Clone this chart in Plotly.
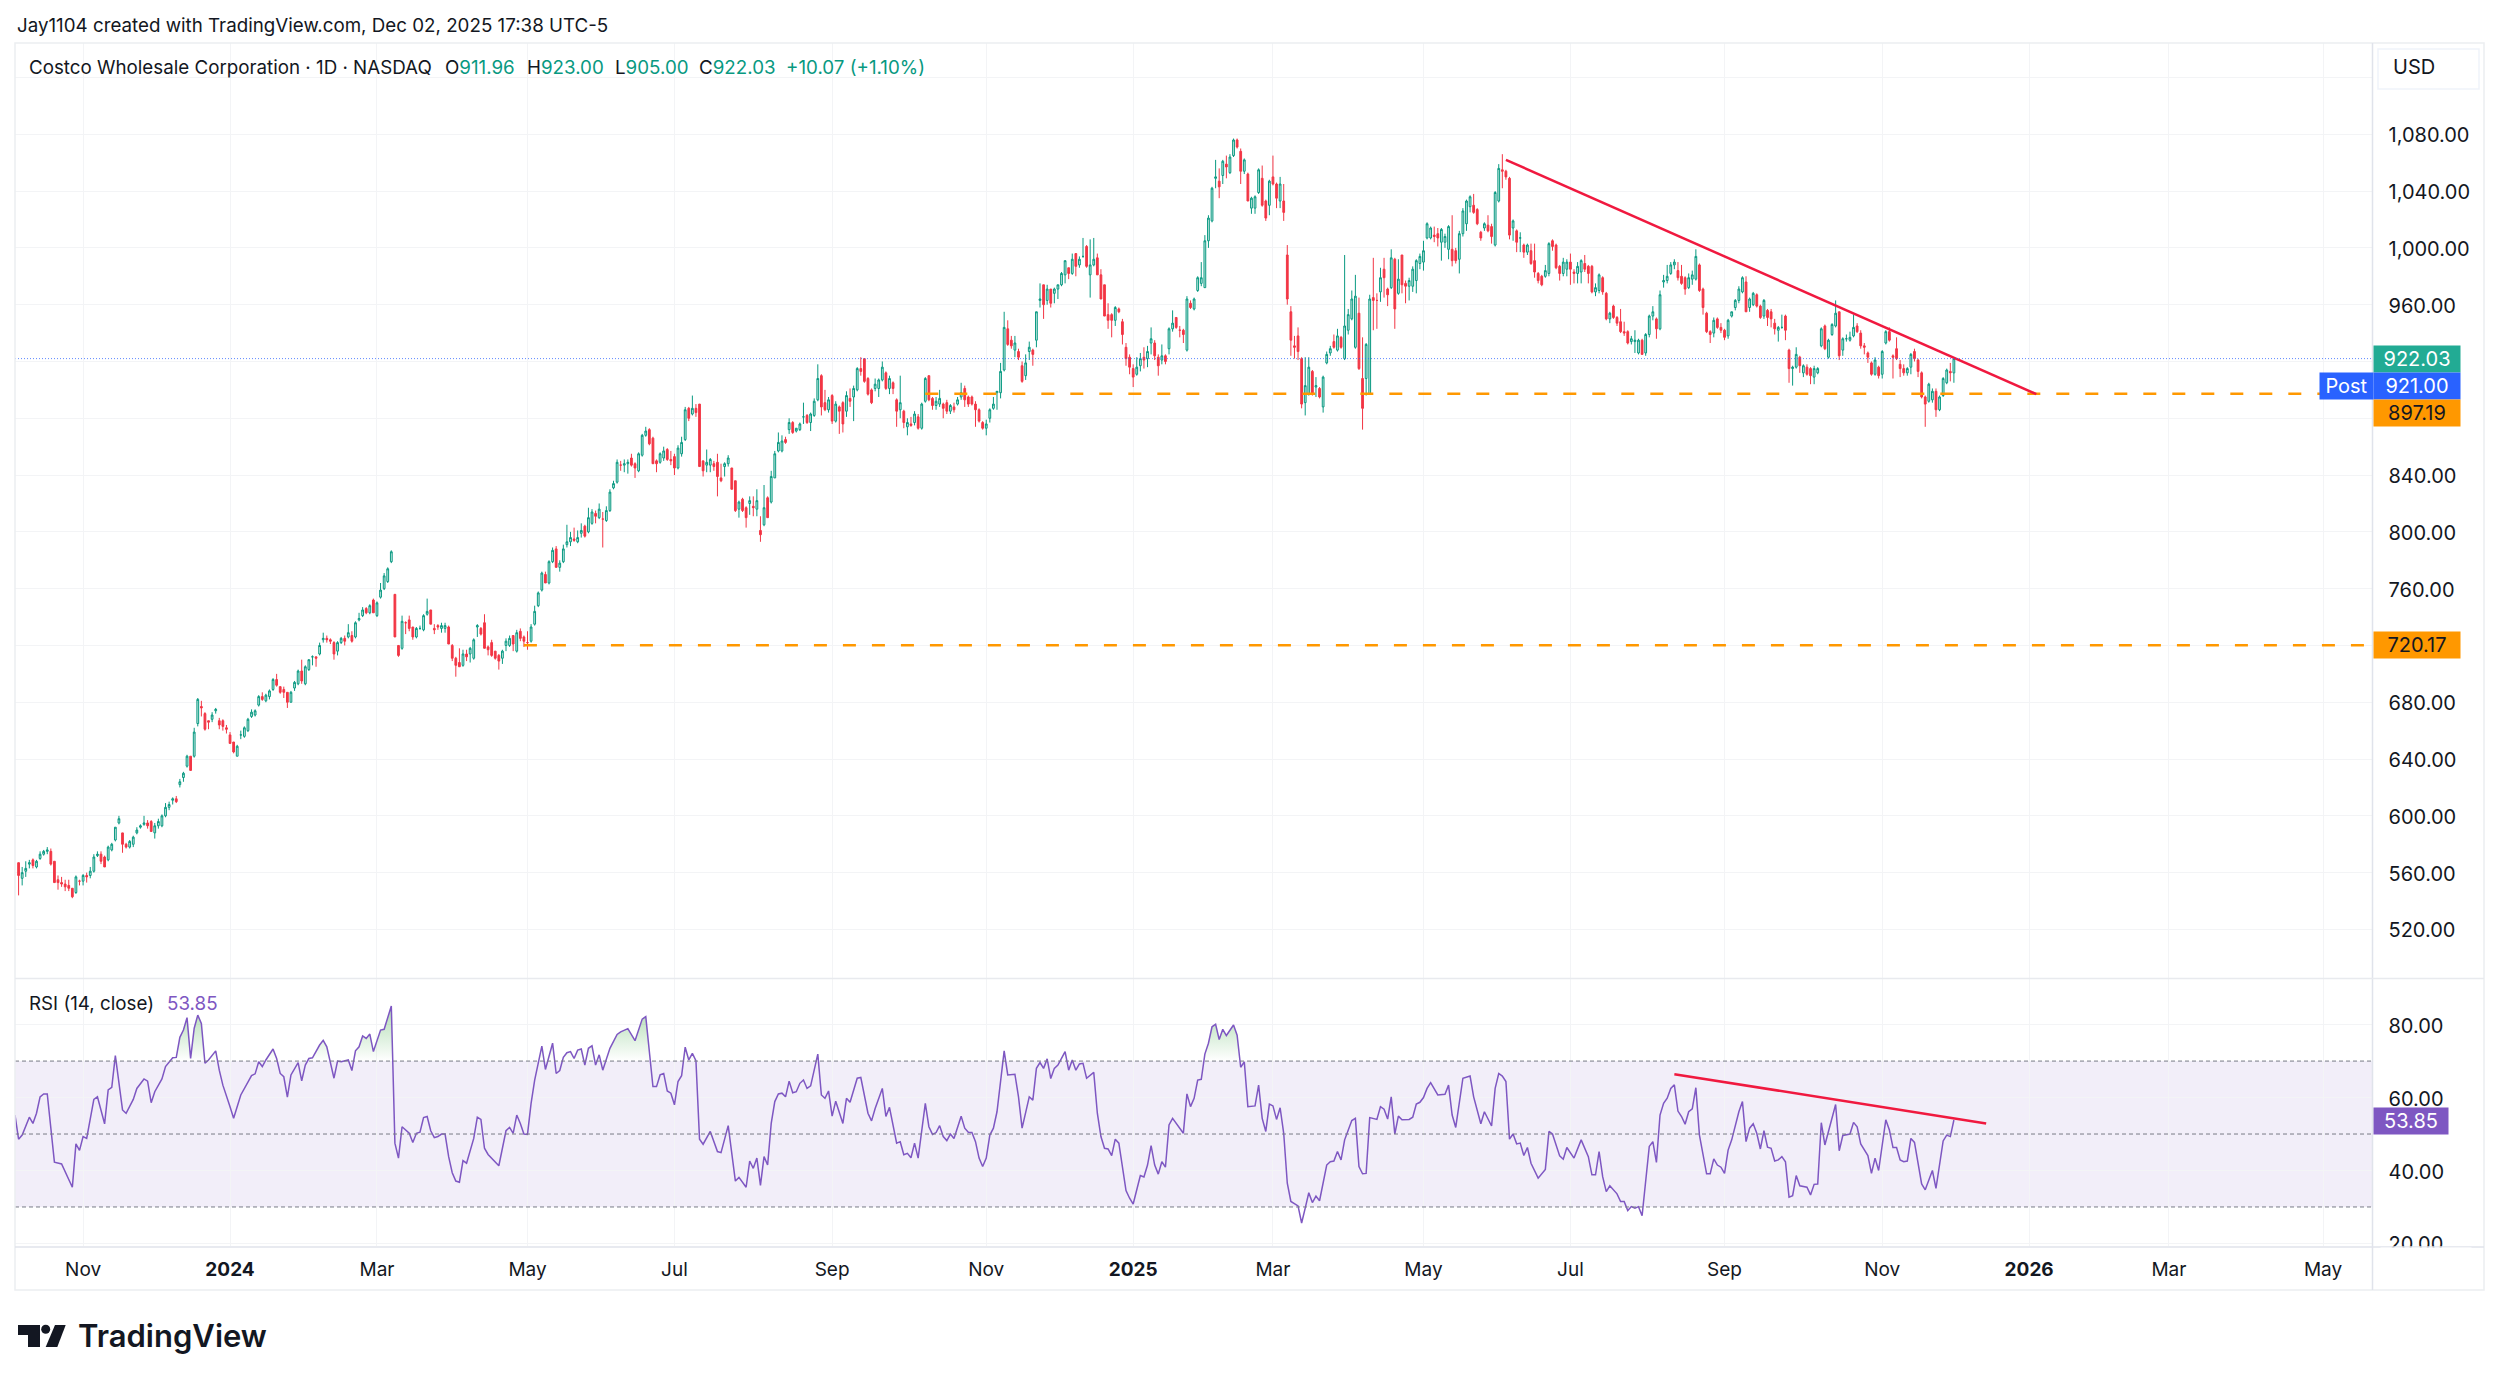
#!/usr/bin/python

import numpy as np
import plotly.graph_objects as go
from plotly.subplots import make_subplots

W = 2500
H = 1384

opens = [
    567,556,561,566,569,564,570,573,575,575, 568,555,553,552,551,549,546,554,554,558,
    558,561,572,573,571,569,576,583,595,588, 580,578,580,588,592,594,595,596,588,593,
    593,600,606,611,612,622,627,635,642,642, 665,677,672,667,668,674,667,667,662,657,
    652,642,657,656,660,670,671,678,684,681, 684,689,696,691,689,687,680,690,693,702,
    693,703,712,712,714,724,725,724,722,716, 722,725,726,727,726,738,741,746,743,752,
    741,754,760,765,779,756,720,718,736,738, 733,726,732,731,742,745,732,734,732,732,
    733,720,711,708,706,714,714,711,733,732, 736,719,722,716,713,711,720,720,727,716,
    730,726,722,723,735,748,759,770,764,779, 788,775,779,791,793,795,793,799,804,800,
    806,813,810,809,808,815,831,835,847,847, 848,852,848,843,854,868,872,866,850,849,
    852,858,851,853,845,855,865,887,883,887, 890,850,847,847,848,849,838,846,848,845,
    836,816,823,817,820,818,816,801,805,824, 821,838,857,857,865,872,877,871,872,881,
    882,877,882,893,910,891,886,896,878,888, 891,885,894,895,900,915,922,908,900,901,
    901,907,912,901,905,893,886,885,874,876, 877,881,873,892,910,894,889,890,890,891,
    885,888,890,895,901,895,895,890,886,877, 873,880,887,898,898,914,943,935,928,927,
    917,910,927,928,935,963,974,963,971,968, 971,974,981,986,982,996,988,994,1001,981,
    988,993,981,974,953,953,949,957,948,930, 923,915,911,917,923,922,933,933,923,921,
    924,929,943,951,942,942,928,961,957,970, 975,972,1005,1019,1049,1047,1051,1059,1053,1065,
    1076,1068,1054,1052,1028,1028,1039,1049,1033,1030, 1050,1045,1033,1033,995,955,931,938,922,891,
    897,913,902,901,888,919,926,934,928,937, 922,942,950,930,954,908,908,897,965,963,
    969,985,971,972,992,968,995,975,973,973, 977,989,990,1007,1007,1009,1010,1004,1004,999,
    999,998,992,1010,1017,1029,1030,1027,1011,1014, 1016,1015,1002,1033,1055,1054,1049,1014,1012,1007,
    1002,997,998,991,982,980,980,982,1005,1002, 987,982,985,990,983,982,983,989,987,987,
    969,970,979,968,950,959,951,948,941,941, 934,934,926,935,926,939,952,950,943,976,
    977,982,988,984,980,979,972,978,978,988, 971,954,941,940,950,944,942,938,952,958,
    963,969,976,958,960,967,959,952,956,955, 947,942,944,952,928,915,916,923,912,916,
    915,909,912,931,945,923,939,945,955,928, 936,935,938,945,940,931,926,919,911,916,
    911,933,941,924,929,918,915,912,916,927, 921,912,895,892,893,899,886,896,905,913,911.96,
]
highs = [
    567,564,568,569,570,569,575,576,578,577, 568,558,557,555,555,549,558,555,559,560,
    564,573,575,575,572,579,581,592,600,588, 581,583,586,592,594,600,597,597,595,598,
    601,609,610,613,614,626,631,643,642,662, 683,681,673,667,673,676,669,668,664,659,
    652,650,660,663,669,675,675,685,687,686, 689,697,700,691,691,687,688,695,703,710,
    706,710,713,712,722,729,727,725,723,723, 726,727,735,730,737,743,747,747,749,753,
    751,764,771,775,787,756,720,741,737,741, 733,733,734,742,753,745,735,735,736,736,
    734,721,712,718,717,717,719,725,735,733, 742,720,724,716,714,717,725,727,727,731,
    732,727,730,735,748,758,772,772,780,789, 790,780,791,805,800,803,801,806,805,817,
    816,815,820,814,818,830,836,851,850,851, 851,855,849,856,869,874,873,867,851,856,
    860,859,857,855,861,867,888,888,896,890, 890,850,858,852,850,855,848,849,854,845,
    836,822,824,818,825,825,830,811,833,825, 843,857,870,868,867,880,878,873,877,891,
    883,884,894,918,911,900,895,897,892,889, 892,899,901,903,916,923,922,909,901,908,
    908,920,913,910,906,894,910,886,880,881, 885,883,891,909,910,895,895,900,891,893,
    890,891,895,905,903,896,896,892,887,878, 879,887,895,899,919,955,949,938,938,929,
    920,925,934,929,955,975,974,974,971,972, 974,983,991,986,996,996,994,1007,1002,1006,
    1007,996,985,974,961,954,959,958,950,933, 925,918,923,926,930,931,944,935,925,932,
    925,944,956,951,945,943,966,963,965,980, 990,1009,1023,1043,1062,1056,1062,1065,1066,1077,
    1077,1070,1063,1053,1036,1037,1056,1058,1034,1048, 1065,1046,1050,1045,1002,959,938,944,923,923,
    923,914,909,902,910,927,931,939,943,938, 995,957,970,981,965,937,933,967,993,968,
    986,993,972,999,993,992,995,977,979,987, 992,996,1005,1018,1015,1015,1014,1014,1010,1016,
    1023,1000,1012,1028,1034,1037,1038,1028,1012,1018, 1023,1017,1040,1059,1066,1055,1050,1020,1013,1011,
    1003,1003,1003,1003,983,981,988,1004,1006,1003, 988,993,992,996,985,990,992,995,988,988,
    975,982,980,969,955,960,952,957,948,942, 938,942,936,936,940,953,959,951,970,981,
    988,990,992,990,988,980,982,984,999,989, 972,955,942,951,951,947,943,950,955,964,
    973,980,980,965,969,968,960,964,957,957, 950,945,953,953,929,917,930,924,918,918,
    916,917,916,944,946,936,947,963,955,937, 939,941,953,947,942,933,927,920,923,917,
    928,942,944,925,937,921,918,916,926,929, 922,913,896,905,901,901,896,909,915,919,923,
]
lows = [
    544,551,557,563,563,563,569,572,573,565, 553,548,550,547,547,542,545,551,551,553,
    556,560,571,566,564,568,575,582,594,574, 577,577,578,587,591,593,591,589,584,591,
    592,599,604,608,609,620,624,634,632,641, 663,670,660,661,666,672,661,660,658,651,
    644,642,654,655,659,669,670,677,681,680, 682,688,691,686,683,676,680,688,692,693,
    692,702,706,705,713,722,722,721,710,713, 721,720,725,722,725,737,740,742,742,743,
    740,753,759,764,778,726,712,717,728,730, 724,725,731,730,741,735,728,731,729,729,
    721,709,698,705,705,709,708,710,726,727, 718,713,712,710,703,707,716,719,716,715,
    723,719,717,722,734,747,758,764,763,778, 775,772,778,789,790,793,792,796,796,799,
    805,806,809,789,807,814,830,834,843,842, 841,846,838,842,853,867,861,848,842,848,
    850,850,847,840,844,853,864,878,882,881, 846,839,842,842,843,825,835,839,846,830,
    814,810,814,803,812,811,811,793,804,810, 820,838,856,856,862,869,869,870,871,876,
    876,871,881,892,882,885,884,876,877,869, 870,881,888,878,899,910,905,896,890,899,
    895,906,900,897,897,874,880,873,868,874, 875,872,872,891,892,886,886,888,880,883,
    883,884,889,893,888,888,889,874,877,872, 868,877,886,886,894,913,931,929,923,921,
    905,907,921,917,930,958,950,960,958,961, 964,973,975,978,981,980,986,993,986,965,
    987,981,964,952,943,937,945,954,932,917, 911,902,910,913,915,916,925,921,910,918,
    918,925,941,943,937,933,927,957,956,969, 973,972,1000,1018,1042,1035,1045,1049,1052,1064,
    1070,1045,1052,1033,1024,1024,1038,1029,1019,1023, 1044,1028,1028,1019,960,924,922,921,887,882,
    896,896,895,894,884,918,924,929,927,929, 921,939,949,929,914,872,896,897,942,943,
    962,965,959,971,943,967,968,961,963,969, 968,985,984,1006,1006,1004,1001,991,1000,992,
    987,989,982,1008,1012,1025,1024,1016,1005,1012, 1011,1003,1001,1032,1042,1048,1006,1005,997,997,
    993,995,988,979,975,973,979,980,998,985, 977,980,980,974,975,975,975,983,975,968,
    966,968,967,949,947,950,945,940,938,932, 932,926,925,925,924,937,949,936,942,972,
    975,981,985,977,974,967,971,974,977,969, 953,940,933,937,943,940,935,936,951,956,
    961,968,955,955,959,958,950,950,945,944, 939,934,943,935,905,903,915,912,909,910,
    904,904,911,930,928,922,938,944,921,924, 934,934,937,940,929,925,919,910,910,908,
    908,932,934,908,921,909,910,910,911,920, 909,894,874,891,891,881,885,895,904,906,905,
]
closes = [
    558,560,563,567,565,568,573,575,576,566, 553,553,552,550,549,543,557,554,558,557,
    561,571,573,568,564,578,580,592,598,580, 578,582,585,590,593,595,593,589,593,596,
    600,606,608,612,610,624,630,642,632,659, 682,676,661,666,671,675,664,663,661,651,
    645,649,657,662,668,673,674,684,682,685, 688,696,692,687,687,680,687,694,702,695,
    705,710,712,711,720,725,724,723,714,722, 725,723,729,723,736,739,745,743,748,743,
    750,759,769,774,786,726,713,737,736,732, 726,732,732,741,744,735,731,733,734,734,
    721,711,706,705,714,712,718,724,734,728, 718,717,713,711,709,716,723,725,721,729,
    725,723,722,733,744,757,771,764,779,787, 775,778,788,793,796,794,796,801,797,810,
    814,811,816,809,815,828,834,849,847,848, 849,847,845,855,868,871,862,848,848,855,
    857,851,850,845,859,863,886,880,887,884, 846,843,849,851,846,839,836,848,852,830,
    815,821,815,810,822,817,822,798,817,810, 839,855,863,864,863,877,870,873,876,881,
    877,883,892,908,888,886,893,878,890,885, 876,896,892,901,915,913,906,897,891,904,
    907,916,901,908,901,885,891,877,877,875, 883,873,890,908,893,889,892,894,887,885,
    889,886,893,898,893,890,890,886,878,873, 876,886,890,899,913,944,932,931,933,923,
    906,919,930,925,955,964,960,971,961,971, 974,982,991,982,992,987,992,994,987,988,
    992,981,964,952,949,949,958,955,939,922, 916,909,916,922,921,927,936,924,917,924,
    920,943,947,944,942,939,964,958,964,979, 979,1005,1021,1042,1050,1043,1061,1057,1064,1076,
    1071,1054,1062,1033,1035,1036,1055,1030,1021,1047, 1045,1035,1045,1025,964,935,930,927,890,903,
    916,897,903,895,909,925,929,930,938,930, 945,953,964,966,915,887,932,964,963,963,
    979,979,967,993,957,978,974,973,977,985, 991,994,998,1017,1014,1008,1007,1013,1008,1015,
    991,991,1010,1026,1033,1036,1025,1017,1007,1017, 1012,1008,1039,1056,1054,1050,1009,1019,1004,1007,
    997,1002,989,983,977,974,984,1003,1001,986, 982,990,990,985,982,987,991,985,982,969,
    972,981,969,950,954,951,947,941,940,933, 936,935,935,925,939,952,955,943,967,977,
    980,988,990,979,975,971,979,981,994,970, 958,941,939,949,944,942,937,949,955,963,
    971,979,955,964,968,959,951,963,951,950, 943,944,944,942,915,916,925,917,917,911,
    910,915,915,943,929,935,946,954,924,936, 936,937,944,941,931,930,923,911,921,910,
    927,941,935,923,922,915,912,915,925,922, 913,895,890,904,899,886,895,908,914,912,922.03,
]

rsi_bars = [
    -1,0,1,3,4,5,6,7,8,10,12,13,15,16,17,18,19,21,22,24,25,26,27,29,30,32,33,35,36,37,38,40,41,43,44,45,46,47,48,49,
    50,51,52,53,55,56,57,59,60,62,65,66,67,68,69,71,72,73,74,75,76,78,79,80,81,82,84,85,86,88,89,90,92,93,94,95,96,97,98,99,
    101,102,104,105,106,107,109,110,111,112,113,114,115,116,117,118,119,120,121,122,123,124,125,127,128,129,130,131,134,136,137,138,139,140,141,142,143,144,146,147,
    149,150,151,152,153,154,155,156,157,158,159,160,161,162,163,165,167,168,170,172,174,175,177,178,179,180,181,182,183,184,185,186,187,188,189,190,191,193,195,196,
    198,200,201,203,204,205,206,207,208,209,210,211,212,213,214,215,216,217,218,219,220,221,223,224,225,226,227,228,230,231,232,234,235,237,238,239,241,242,243,245,
    246,247,248,249,250,251,253,254,255,256,257,258,259,260,261,263,264,265,266,267,268,269,270,271,272,273,274,275,276,278,279,280,282,283,284,285,286,287,288,289,
    290,292,293,294,295,296,297,298,300,301,302,303,304,305,306,307,309,310,311,313,314,315,316,317,318,319,320,321,322,324,325,326,327,328,329,330,331,332,333,334,
    335,336,337,339,340,341,342,343,345,346,347,348,349,350,351,352,353,354,355,357,358,359,360,361,362,363,365,366,367,368,369,370,372,373,374,375,376,377,379,380,
    381,382,383,384,385,386,388,389,390,391,392,393,394,396,397,398,399,400,401,402,403,405,406,408,409,411,412,413,414,415,416,417,418,419,420,421,422,424,426,427,
    428,430,431,432,434,436,438,439,440,441,442,443,444,446,447,448,449,450,451,452,453,455,456,457,458,459,460,461,462,463,464,465,466,467,468,469,471,472,473,474,
    475,476,477,478,480,481,482,483,484,485,486,487,488,489,490,491,492,493,494,495,496,497,499,500,501,502,503,504,507,508,509,511,512,513,514,516,517,518,519,521,
    522,523,524,525,526,527,528,529,530,531,532,534,535,537,538,539,540,
]
rsi_values = [
    55.2,48.6,49.7,54.6,52.9,55.7,60.2,61.0,61.0,42.3,41.8,39.7,35.4,47.3,45.5,49.3,48.8,59.5,60.2,52.8,62.1,62.8,71.5,56.6,55.7,59.5,62.5,65.1,64.5,58.6,61.6,65.1,68.5,70.9,71.0,76.5,78.5,81.9,70.7,79.0,
    82.6,80.3,69.4,70.3,72.8,67.5,63.4,57.5,54.3,60.7,66.0,66.5,69.8,68.5,70.3,73.3,70.7,66.6,65.7,60.1,66.2,69.6,64.6,68.9,70.7,70.9,74.4,75.7,73.9,65.3,70.0,69.8,70.3,67.4,72.8,73.9,76.9,76.2,77.4,72.6,
    78.5,78.7,85.1,47.5,43.4,52.0,50.2,47.7,50.2,50.5,54.5,54.8,50.9,49.0,49.3,50.0,50.0,43.8,39.4,37.1,36.8,42.7,42.0,48.8,54.6,54.0,46.1,44.4,41.3,50.9,51.8,50.2,55.2,52.9,50.0,49.9,58.4,64.8,74.1,67.7,
    74.9,66.6,67.4,71.0,72.3,72.6,70.7,73.0,73.3,68.9,73.5,74.2,68.9,71.7,67.5,73.5,77.3,78.0,78.9,75.6,81.5,82.2,63.0,63.0,66.2,66.6,61.8,61.2,58.0,64.4,66.0,73.8,70.3,72.1,70.1,48.6,47.2,50.7,45.2,44.9,
    52.3,37.1,38.1,35.4,42.6,40.6,43.4,35.9,43.8,41.5,52.9,58.9,61.0,61.2,60.2,64.5,61.3,61.6,63.9,64.8,62.5,63.2,71.9,60.7,59.8,61.8,54.9,59.0,52.9,59.8,58.7,65.3,65.5,55.7,53.6,57.0,62.5,54.8,57.3,47.5,
    47.9,44.3,44.7,43.5,47.5,43.4,58.4,52.0,49.9,50.4,52.3,49.3,48.2,50.0,48.8,54.9,51.6,50.5,50.4,47.9,43.4,41.1,43.4,49.7,51.6,56.1,64.8,72.8,66.2,66.4,60.2,51.6,60.2,59.3,68.0,69.6,68.0,70.6,65.2,68.0,
    68.9,72.6,67.5,70.3,67.5,69.2,69.4,65.3,66.9,55.7,49.3,46.1,45.9,44.1,48.6,47.5,34.5,32.4,30.8,38.6,38.2,41.5,46.8,41.5,39.0,42.4,40.9,52.5,54.3,51.4,50.2,61.0,57.5,59.8,64.8,65.0,71.9,74.9,79.4,80.1,
    75.9,78.7,77.0,79.9,77.1,68.3,69.8,57.5,57.7,63.4,54.3,50.7,58.2,57.7,54.0,57.2,50.2,36.5,31.5,30.3,25.6,29.7,33.9,31.2,33.0,31.7,41.5,42.4,42.6,45.2,42.9,48.4,53.7,54.3,41.1,39.1,39.2,54.5,54.0,57.5,
    56.8,54.1,60.2,50.0,54.9,53.9,54.0,54.6,58.2,58.7,60.0,62.5,64.1,60.7,60.9,60.9,63.4,55.2,51.8,59.3,65.3,65.9,60.2,52.8,56.1,52.2,62.5,66.6,65.9,64.4,48.6,50.0,47.3,47.5,44.1,46.3,42.0,37.9,40.3,50.7,
    50.0,44.0,43.1,46.3,43.4,48.4,43.8,38.8,38.8,45.2,38.3,34.2,35.8,33.6,31.5,31.5,29.0,30.1,29.7,30.1,27.6,46.6,47.9,42.2,55.2,58.4,59.8,62.5,63.5,56.3,54.8,52.7,56.1,56.9,62.7,49.7,39.1,39.1,43.2,41.5,
    40.9,39.2,45.6,48.4,56.1,58.9,47.9,51.6,52.8,50.2,45.9,50.9,46.4,46.1,42.6,42.9,43.8,42.4,32.7,33.1,38.6,35.8,35.4,33.3,36.2,36.3,53.1,47.0,58.1,45.4,49.6,50.0,53.2,52.0,47.3,44.1,39.2,43.4,40.0,53.9,
    51.1,46.3,46.3,42.9,42.4,42.6,48.8,47.7,42.4,36.3,34.7,40.0,35.1,48.1,49.7,49.3,53.85,
]

tick_bars = [18, 59, 100, 142, 183, 227, 270, 311, 350, 392, 433, 476, 520, 561, 600, 643]
tick_labels = ["Nov", "<b>2024</b>", "Mar", "May", "Jul", "Sep", "Nov", "<b>2025</b>", "Mar", "May", "Jul", "Sep",
               "Nov", "<b>2026</b>", "Mar", "May"]
price_ticks = list(range(520, 1121, 40))
# 720, 880 and 920 sit behind the tags on the scale, 1120 behind the USD box
hidden_ticks = [720, 880, 920, 1120]
price_labels = ["" if p in hidden_ticks else "{:,.2f}".format(p) for p in price_ticks]
rsi_ticks = [20, 40, 60, 80]
rsi_labels = ["20.00", "40.00", "60.00", "80.00"]

last_close = 922.03
post_price = 921.00
support_upper = 897.19
support_upper_bar = 253
support_lower = 720.17
support_lower_bar = 141
trend_bars = [415, 563]
trend_prices = [1062, 897]
rsi_trend_bars = [462, 549]
rsi_trend_values = [66.4, 52.9]

TEXT = "#131722"
TEAL = "#089981"
RED = "#f23645"
PURPLE = "#7e57c2"
ORANGE = "#ff9800"
TREND = "#f0193f"
GRID = "#f3f4f6"
FRAME = "#eceef1"
FONT = "Inter"

X_RANGE = [-1, 656.8]
X_LEFT = 15
X_RIGHT = 2372.5
FRAME_RIGHT = 2484


def px(x):
    return x / W


def py(y):
    return 1 - y / H


def overbought_edge(bars, values, level=70):
    # adds the points where the line crosses the level, only used for the green fill
    out_x, out_y = [], []
    for k in range(len(bars)):
        if k > 0 and (values[k - 1] - level) * (values[k] - level) < 0:
            t = (level - values[k - 1]) / (values[k] - values[k - 1])
            out_x.append(bars[k - 1] + t * (bars[k] - bars[k - 1]))
            out_y.append(level)
        out_x.append(bars[k])
        out_y.append(max(values[k], level))
    return out_x, out_y


def text_at(fig, x, y, text, size=18.75, color=TEXT, anchor="left", weight=None):
    fig.add_annotation(xref="paper", yref="paper", x=px(x), y=py(y), text=text, showarrow=False,
                       xanchor=anchor, yanchor="middle", borderpad=0,
                       font=dict(family=FONT, size=size, color=color, weight=weight))


def tag_at(fig, x, y, w, h, text, bg, color="#ffffff", size=20):
    fig.add_annotation(xref="paper", yref="paper", x=px(x), y=py(y), text=text, showarrow=False,
                       xanchor="left", yanchor="middle", width=w, height=h, align="center", valign="middle",
                       bgcolor=bg, borderpad=0, font=dict(family=FONT, size=size, color=color))


def line_px(fig, x0, y0, x1, y1, color, width=1):
    fig.add_shape(type="line", xref="paper", yref="paper", x0=px(x0), y0=py(y0), x1=px(x1), y1=py(y1),
                  line=dict(color=color, width=width))


bars = np.arange(len(closes))

fig = make_subplots(rows=2, cols=1, shared_xaxes=True)

fig.add_trace(
    go.Candlestick(x=bars, open=opens, high=highs, low=lows, close=closes, whiskerwidth=0,
                   increasing=dict(line=dict(color=TEAL, width=1), fillcolor="rgba(8,153,129,0.2)"),
                   decreasing=dict(line=dict(color=RED, width=1), fillcolor=RED),
                   showlegend=False, hoverinfo="skip"),
    row=1, col=1)

fig.add_trace(
    go.Scatter(x=[support_upper_bar, X_RANGE[1]], y=[support_upper] * 2, mode="lines",
               line=dict(color=ORANGE, width=2.5, dash="13px,16px"), showlegend=False, hoverinfo="skip"),
    row=1, col=1)
fig.add_trace(
    go.Scatter(x=[support_lower_bar, X_RANGE[1]], y=[support_lower] * 2, mode="lines",
               line=dict(color=ORANGE, width=2.5, dash="13px,16px"), showlegend=False, hoverinfo="skip"),
    row=1, col=1)
fig.add_trace(
    go.Scatter(x=trend_bars, y=trend_prices, mode="lines", line=dict(color=TREND, width=2.5),
               showlegend=False, hoverinfo="skip"),
    row=1, col=1)

fill_x, fill_y = overbought_edge(rsi_bars, rsi_values)
fig.add_trace(
    go.Scatter(x=fill_x, y=[70] * len(fill_x), mode="lines", line=dict(width=0), showlegend=False, hoverinfo="skip"),
    row=2, col=1)
fig.add_trace(
    go.Scatter(x=fill_x, y=fill_y, mode="lines", line=dict(width=0), fill="tonexty",
               fillgradient=dict(type="vertical", start=70, stop=85,
                                 colorscale=[[0, "rgba(76,175,80,0)"], [1, "rgba(76,175,80,0.45)"]]),
               showlegend=False, hoverinfo="skip"),
    row=2, col=1)
fig.add_trace(
    go.Scatter(x=rsi_bars, y=rsi_values, mode="lines", line=dict(color=PURPLE, width=1.5),
               showlegend=False, hoverinfo="skip"),
    row=2, col=1)
fig.add_trace(
    go.Scatter(x=rsi_trend_bars, y=rsi_trend_values, mode="lines", line=dict(color=TREND, width=2.5),
               showlegend=False, hoverinfo="skip"),
    row=2, col=1)

fig.add_hline(y=last_close, row=1, col=1, line=dict(color="rgba(41,98,255,0.75)", width=1, dash="1px,2px"))
fig.add_hrect(y0=30, y1=70, row=2, col=1, fillcolor="rgba(126,87,194,0.1)", line_width=0, layer="below")
for level in [70, 50, 30]:
    fig.add_hline(y=level, row=2, col=1, line=dict(color="#787b86", width=1, dash="4px,3px"))

fig.update_layout(
    width=W, height=H,
    margin=dict(l=0, r=0, t=0, b=0),
    paper_bgcolor="white", plot_bgcolor="white",
    font=dict(family=FONT, size=20, color=TEXT),
    showlegend=False,
    hovermode=False,
)
fig.update_xaxes(automargin=False, range=X_RANGE, domain=[px(X_LEFT), px(X_RIGHT)], tickmode="array", tickvals=tick_bars,
                 ticktext=tick_labels, showgrid=True, gridcolor=GRID, gridwidth=1, zeroline=False, showline=False,
                 ticks="", rangeslider_visible=False)
fig.update_xaxes(showticklabels=False, row=1, col=1)
fig.update_xaxes(showticklabels=True, ticklabelstandoff=10, tickfont=dict(family=FONT, size=19, color=TEXT), row=2, col=1)
fig.update_yaxes(automargin=False, side="right", showgrid=True, gridcolor=GRID, gridwidth=1, zeroline=False,
                 showline=False, ticks="", ticklabelstandoff=15, ticklabelshift=1,
                 tickfont=dict(family=FONT, size=20, color=TEXT))
fig.update_yaxes(domain=[py(978), py(43)], range=[485.8, 1144.3], tickmode="array", tickvals=price_ticks,
                 ticktext=price_labels, row=1, col=1)
fig.update_yaxes(domain=[py(1246), py(979)], range=[19.3, 92.5], tickmode="array", tickvals=rsi_ticks,
                 ticktext=rsi_labels, row=2, col=1)

# frame and pane separators
fig.add_shape(type="rect", xref="paper", yref="paper", x0=px(X_LEFT), y0=py(1290), x1=px(FRAME_RIGHT), y1=py(43),
              line=dict(color=FRAME, width=1.5))
line_px(fig, X_RIGHT, 43, X_RIGHT, 1290, "#e0e3eb", 1.5)
line_px(fig, X_LEFT, 978.5, FRAME_RIGHT, 978.5, "#e8eaee", 1.5)
line_px(fig, X_LEFT, 1247, FRAME_RIGHT, 1247, "#e0e3eb", 1.5)

# the 20.00 label is cut off by the pane edge
tag_at(fig, 2380, 1252.5, 90, 9, " ", "white", size=6)

# header
text_at(fig, 16, 25, "Jay1104 created with TradingView.com, Dec 02, 2025 17:38 UTC-5")
text_at(fig, 28, 67, "Costco Wholesale Corporation · 1D · NASDAQ")
for x, label, value in [(444, "O", "911.96"), (526, "H", "923.00"), (613.5, "L", "905.00"), (698, "C", "922.03")]:
    text_at(fig, x, 67, '{}<span style="color:{}">{}</span>'.format(label, TEAL, value))
text_at(fig, 784.5, 67, "+10.07 (+1.10%)", color=TEAL)
text_at(fig, 28, 1003, "RSI (14, close)")
text_at(fig, 166, 1003, "53.85", color=PURPLE)

# USD box
fig.add_shape(type="rect", xref="paper", yref="paper", x0=px(2378), y0=py(89), x1=px(2479), y1=py(49),
              line=dict(color="#f0f3fa", width=1.5), fillcolor="white")
text_at(fig, 2392, 67, "USD", size=20)

# price scale tags
tag_at(fig, 2373, 359, 86, 26, "922.03", "#22ab94")
tag_at(fig, 2373, 385.5, 86, 26, "921.00", "#2962ff")
tag_at(fig, 2319, 385.5, 53, 26, "Post", "#2962ff")
tag_at(fig, 2373, 412.5, 86, 26, "897.19", ORANGE, color=TEXT)
tag_at(fig, 2373, 645, 86, 26, "720.17", ORANGE, color=TEXT)
tag_at(fig, 2373, 1120.5, 74, 26, "53.85", PURPLE)

# logo
fig.add_shape(type="path", xref="paper", yref="paper", fillcolor=TEXT, line_width=0,
              path="M {} {} L {} {} L {} {} L {} {} L {} {} L {} {} Z".format(
                  px(18), py(1325), px(40), py(1325), px(40), py(1347), px(28), py(1347), px(28), py(1335), px(18), py(1335)))
fig.add_shape(type="path", xref="paper", yref="paper", fillcolor=TEXT, line_width=0,
              path="M {} {} L {} {} L {} {} L {} {} Z".format(
                  px(55), py(1325), px(65.7), py(1325), px(57.3), py(1347), px(45.7), py(1347)))
fig.add_shape(type="circle", xref="paper", yref="paper", fillcolor=TEXT, line_width=0,
              x0=px(41.2), x1=px(50.2), y0=py(1333.8), y1=py(1324.8))
text_at(fig, 77, 1335, "TradingView", size=31, weight=600)

fig.write_html("out.html", config=dict(displayModeBar=False), post_script="document.body.style.margin='0';")
